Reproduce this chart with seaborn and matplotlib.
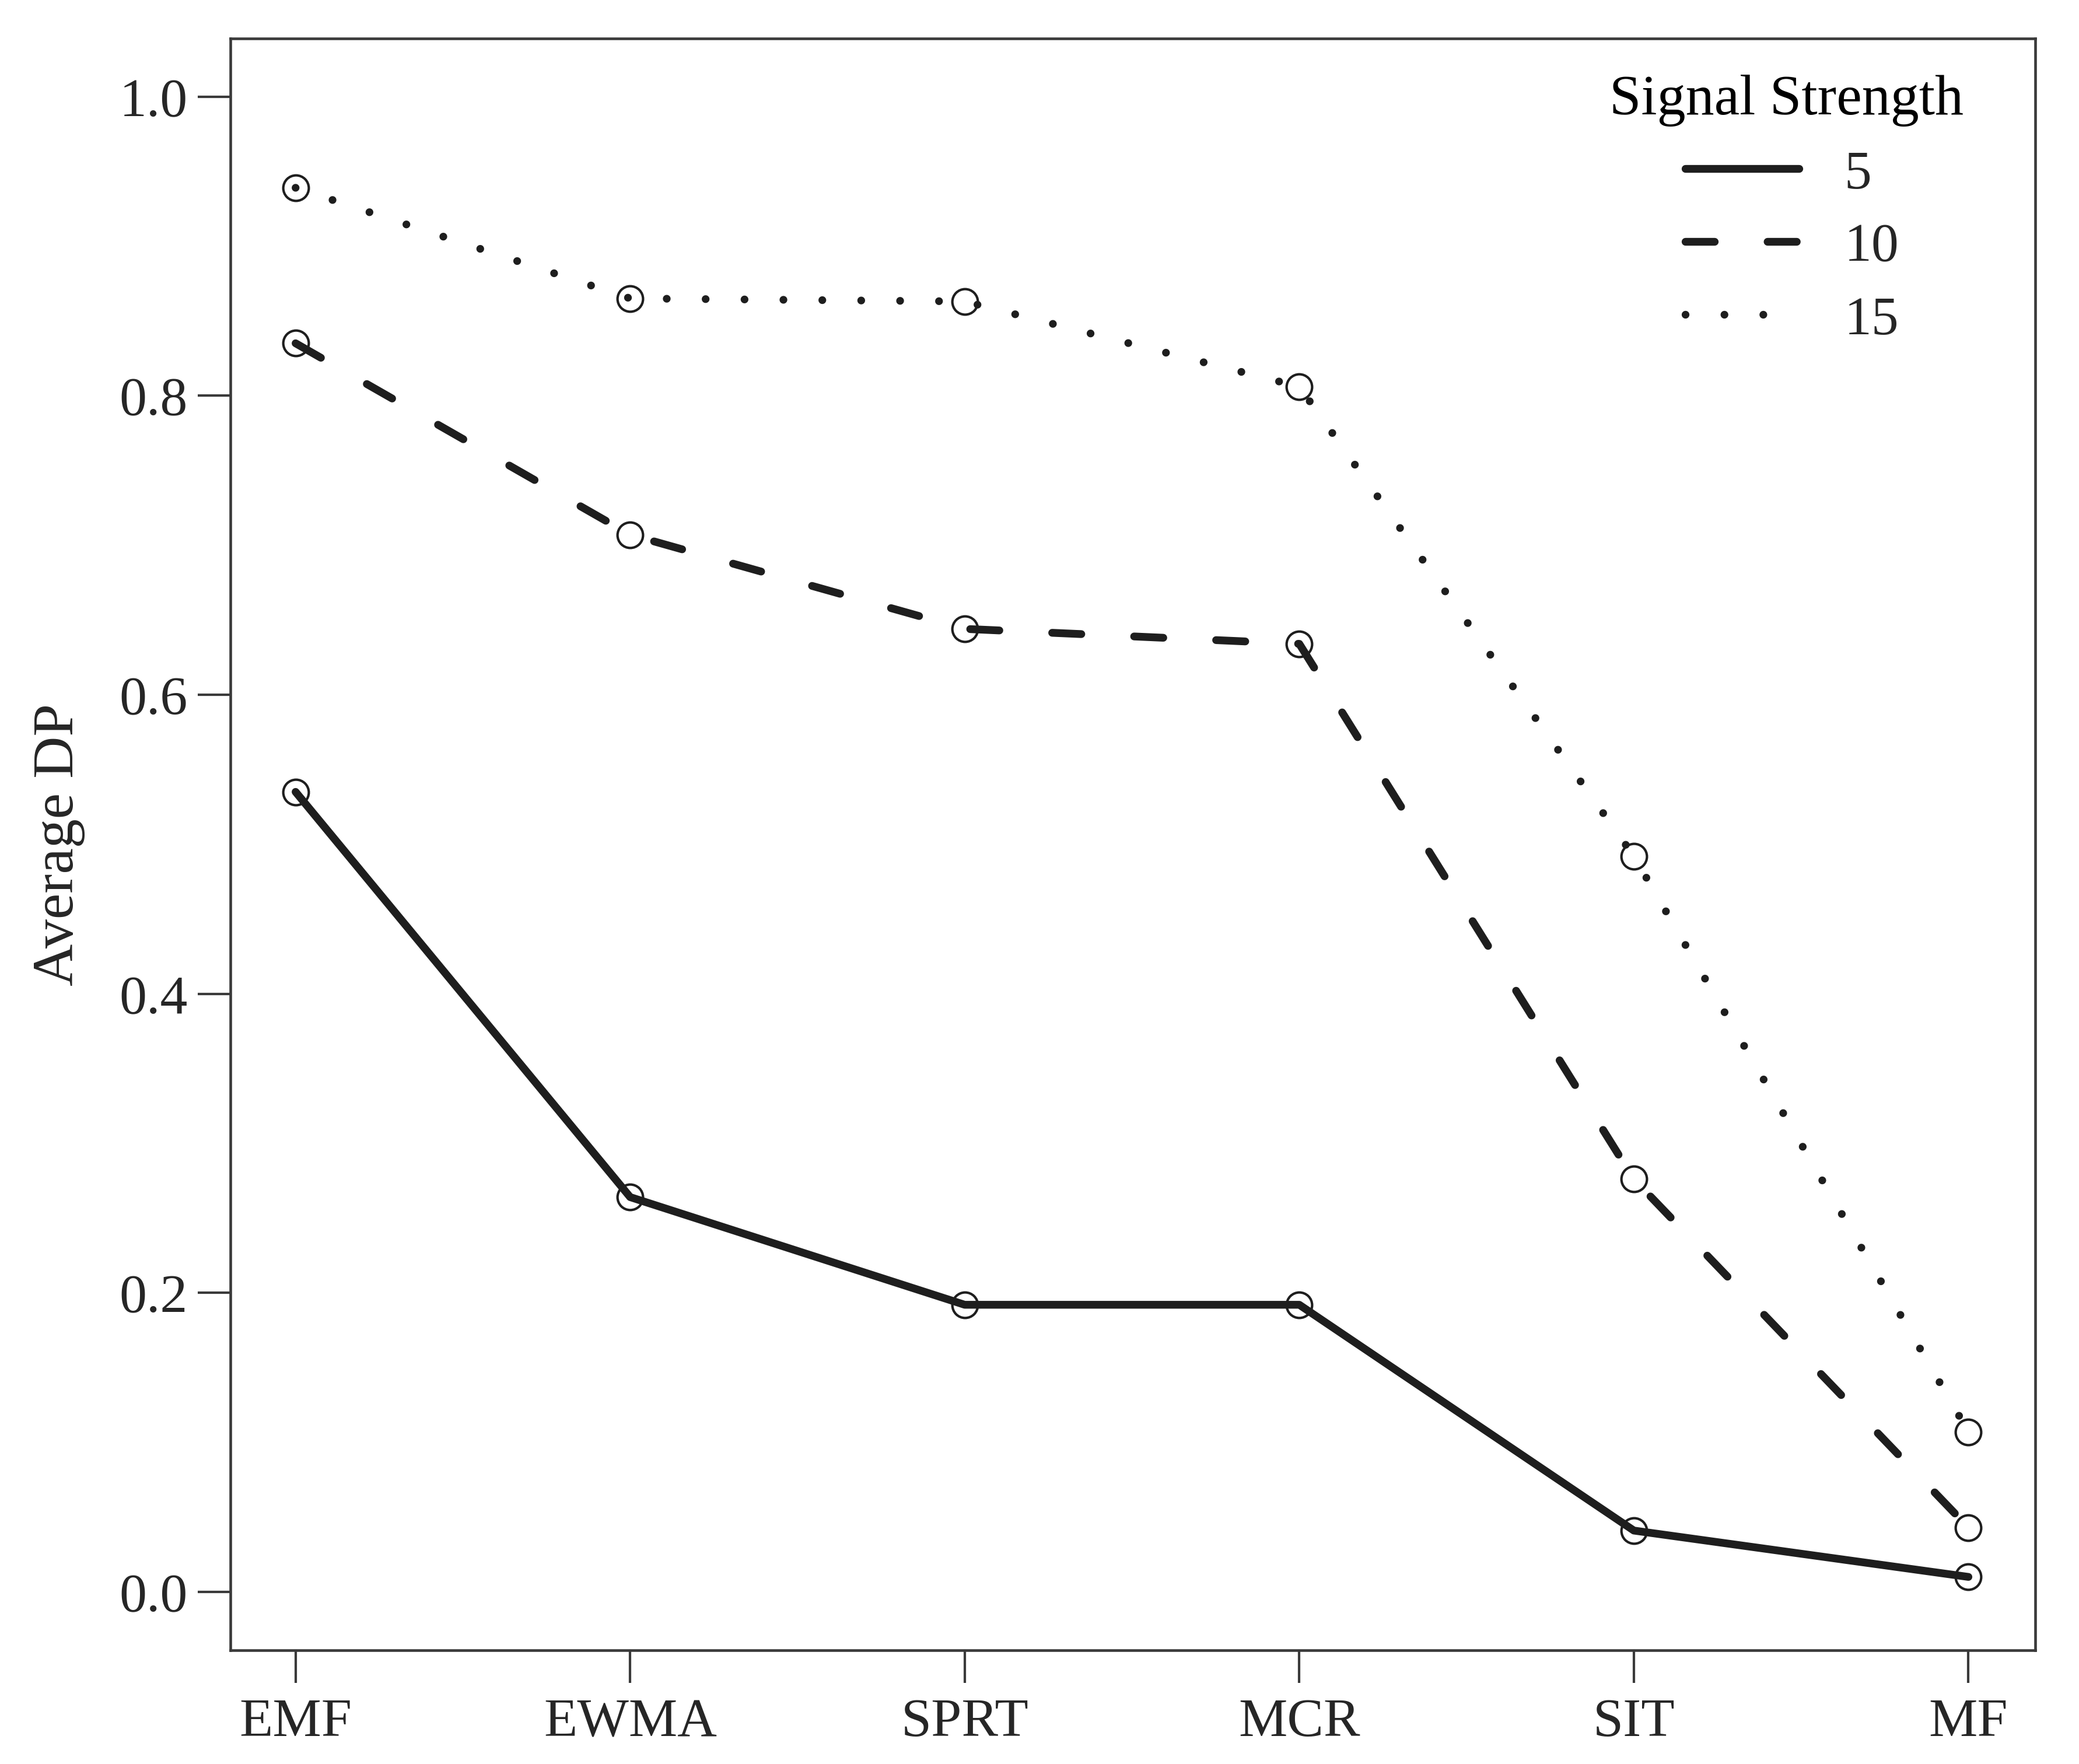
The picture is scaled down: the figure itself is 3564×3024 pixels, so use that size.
import pandas as pd
import numpy as np
import matplotlib.pyplot as plt
import seaborn as sns
from matplotlib.lines import Line2D

# data
methods = ['EMF', 'EWMA', 'SPRT', 'MCR', 'SIT', 'MF']
strengths = ['5', '10', '15']
dp_5 = [0.535, 0.264, 0.192, 0.192, 0.041, 0.010]
dp_10 = [0.835, 0.707, 0.644, 0.634, 0.276, 0.043]
dp_15 = [0.939, 0.865, 0.863, 0.806, 0.492, 0.107]

df = pd.DataFrame({
    'Method': methods * 3,
    'DP': dp_5 + dp_10 + dp_15,
    'Signal Strength': [s for s in strengths for _ in methods],
})

sns.set_style('white')
plt.rcParams['font.family'] = ['Liberation Serif', 'DejaVu Serif']

ink = '#1e1e1e'
frame = '#3a3a3a'
lw = 3.2
dash_styles = {'5': '', '10': (3.75, 6.8), '15': (0.001, 5.0)}

fig, ax = plt.subplots(figsize=(11.88, 10.0833), dpi=300)
fig.subplots_adjust(left=0.1108, right=0.979, bottom=0.0645, top=0.978)

sns.lineplot(data=df, x='Method', y='DP', style='Signal Strength', style_order=strengths,
             dashes=dash_styles, markers={s: 'o' for s in strengths},
             color=ink, lw=lw, ms=10.5, mfc='none', mec=ink, mew=1.0,
             dash_capstyle='round', solid_capstyle='round',
             sort=False, legend=False, ax=ax)

ax.set_xlim(-0.195, 5.2)
ax.set_ylim(-0.039, 1.039)
ax.set_yticks([0.0, 0.2, 0.4, 0.6, 0.8, 1.0])
ax.set_yticklabels(['0.0', '0.2', '0.4', '0.6', '0.8', '1.0'])
ax.set_xlabel('')
ax.set_ylabel('Average DP', fontsize=24, labelpad=14)

for sp in ax.spines.values():
    sp.set_visible(True)
    sp.set_color(frame)
    sp.set_linewidth(1.1)

ax.tick_params(axis='both', direction='out', length=13.5, width=1.0, color=frame,
               labelsize=22.5, left=True, bottom=True)
ax.tick_params(axis='y', pad=4)
ax.tick_params(axis='x', pad=6)

# legend: title as separate text, entries show line styles only
ax.text(0.764, 0.953, 'Signal Strength', transform=ax.transAxes,
        fontsize=23.5, ha='left', va='baseline', color='black')
handles = [Line2D([], [], color=ink, lw=lw,
                  linestyle='-' if s == '5' else (0, dash_styles[s]),
                  dash_capstyle='round', solid_capstyle='round')
           for s in strengths]
ax.legend(handles, strengths, frameon=False,
          loc='upper left', bbox_to_anchor=(0.806, 0.931),
          fontsize=22.5, handlelength=2.08,
          handletextpad=0.83, labelspacing=0.42, borderpad=0, borderaxespad=0)

fig.savefig('out.png', dpi=300, facecolor='white')
